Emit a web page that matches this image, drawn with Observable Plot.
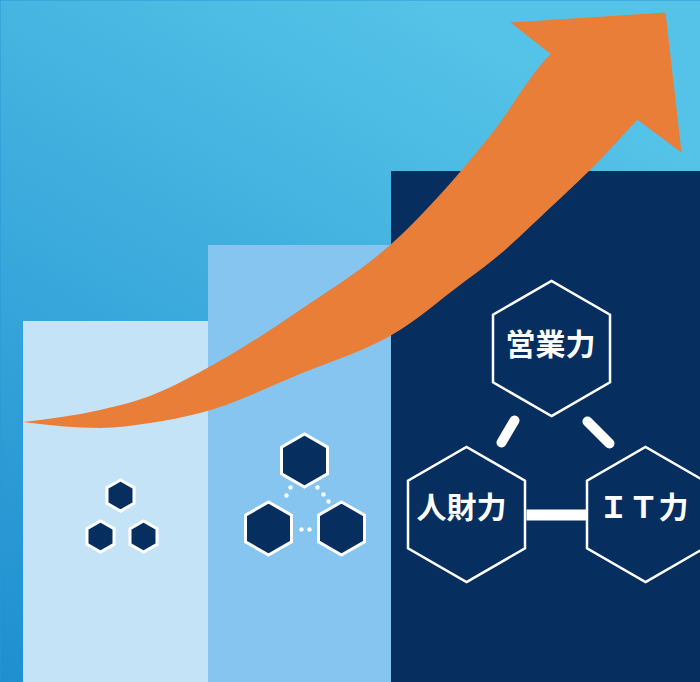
<!DOCTYPE html>
<html><head><meta charset="utf-8">
<script src="https://cdn.jsdelivr.net/npm/d3@7"></script>
<script src="https://cdn.jsdelivr.net/npm/@observablehq/plot@0.6"></script>
<style>html,body{margin:0;padding:0;overflow:hidden;background:#2a97d4}</style>
</head><body><div id="chart"></div>
<script>
// Bars (steps)
const barNames = ["step1", "step2", "step3"];
const barX1 = [23, 208, 391];
const barX2 = [208, 391, 700];
const barTop = [321, 245, 171];
const barColor = ["#C5E3F6", "#86C5EF", "#062F60"];
const groundY = 682;

// Arrow shaft edges
const arrowX =     [23, 100, 150, 200, 300, 400, 460, 493, 551, 589, 637];
const arrowUpper = [422, 410, 396, 372, 310, 236, 172, 132, 54, 30, 50];
const arrowLower = [422, 428, 423, 413, 374, 330, 285, 260, 207, 171, 120];
// Arrow head
const headX = [510, 665, 681, 638, 551];
const headY = [22, 12, 152, 120, 54];

// Hexagons
const smallHexX = [120, 100, 143];
const smallHexY = [495, 536, 536];
const midHexX = [304, 268, 341];
const midHexY = [460, 528, 528];
const bigHexX = [551, 466, 645];
const bigHexY = [348, 514, 514];
const bigLabels = ["営業力", "人財力", "ＩＴ力"];
const labelX = [550, 461, 643];
const labelY = [345, 508, 508];

// Dotted connectors (step 2)
const dotX = [290, 286, 317, 323, 328, 301, 309];
const dotY = [487, 495, 487, 494, 501, 529, 529];

// Solid connectors (step 3)
const diagX1 = [514, 587], diagY1 = [420, 421], diagX2 = [501, 609], diagY2 = [442, 443];
const barLinkX1 = [526], barLinkX2 = [586], barLinkY = [514.5];

const orange = "#E87E38";
const navy = "#062F60";

const bars = barNames.map((n, i) => ({n, x1: barX1[i], x2: barX2[i], top: barTop[i], fill: barColor[i]}));
const shaft = arrowX.map((x, i) => ({x, y1: arrowUpper[i], y2: arrowLower[i]}));
const head = headX.map((x, i) => ({x, y: headY[i]}));
const pts = (xs, ys) => xs.map((x, i) => ({x, y: ys[i]}));
const labels = bigLabels.map((t, i) => ({t, x: labelX[i], y: labelY[i]}));
const diags = diagX1.map((x, i) => ({x1: x, y1: diagY1[i], x2: diagX2[i], y2: diagY2[i]}));
const hbar = barLinkX1.map((x, i) => ({x1: x, x2: barLinkX2[i], y: barLinkY[i]}));

const defs = () => {
  const d = d3.create("svg:defs");
  const g = d.append("linearGradient").attr("id", "bg")
    .attr("x1", 0.6).attr("y1", 0).attr("x2", 0).attr("y2", 1);
  g.append("stop").attr("offset", 0).attr("stop-color", "#55C3E7");
  g.append("stop").attr("offset", 1).attr("stop-color", "#1F8FD0");
  return d.node();
};

const chart = Plot.plot({
  width: 700,
  height: 682,
  margin: 0,
  x: {domain: [0, 700], axis: null},
  y: {domain: [0, 682], reverse: true, axis: null},
  style: {background: "transparent"},
  marks: [
    defs,
    Plot.frame({fill: "url(#bg)", stroke: "none"}),
    Plot.rect(bars, {x1: "x1", x2: "x2", y1: "top", y2: () => groundY, fill: "fill"}),
    Plot.ruleX(bars.slice(2), {x: "x1", y1: "top", y2: () => groundY, stroke: "#0E2C48", strokeWidth: 1}),
    Plot.area(shaft, {x1: "x", y1: "y1", y2: "y2", fill: orange, curve: "monotone-x"}),
    Plot.line(head, {x: "x", y: "y", fill: orange, stroke: "none", curve: "linear"}),
    Plot.dot(pts(dotX, dotY), {x: "x", y: "y", r: 2.2, fill: "white"}),
    Plot.link(diags, {x1: "x1", y1: "y1", x2: "x2", y2: "y2", stroke: "white", strokeWidth: 10, strokeLinecap: "round"}),
    Plot.link(hbar, {x1: "x1", x2: "x2", y1: "y", y2: "y", stroke: "white", strokeWidth: 11, strokeLinecap: "butt"}),
    Plot.dot(pts(smallHexX, smallHexY), {x: "x", y: "y", symbol: "hexagon", r: 13.5, fill: navy, stroke: "white", strokeWidth: 3}),
    Plot.dot(pts(midHexX, midHexY), {x: "x", y: "y", symbol: "hexagon", r: 23, fill: navy, stroke: "white", strokeWidth: 3}),
    Plot.dot(pts(bigHexX, bigHexY), {x: "x", y: "y", symbol: "hexagon", r: 58.5, fill: navy, stroke: "white", strokeWidth: 2.5}),
    Plot.text(labels, {x: "x", y: "y", text: "t", fill: "white", fontSize: 30, fontWeight: "bold", fontFamily: "Noto Sans CJK JP"})
  ]
});
document.getElementById("chart").append(chart);
</script>
</body></html>
